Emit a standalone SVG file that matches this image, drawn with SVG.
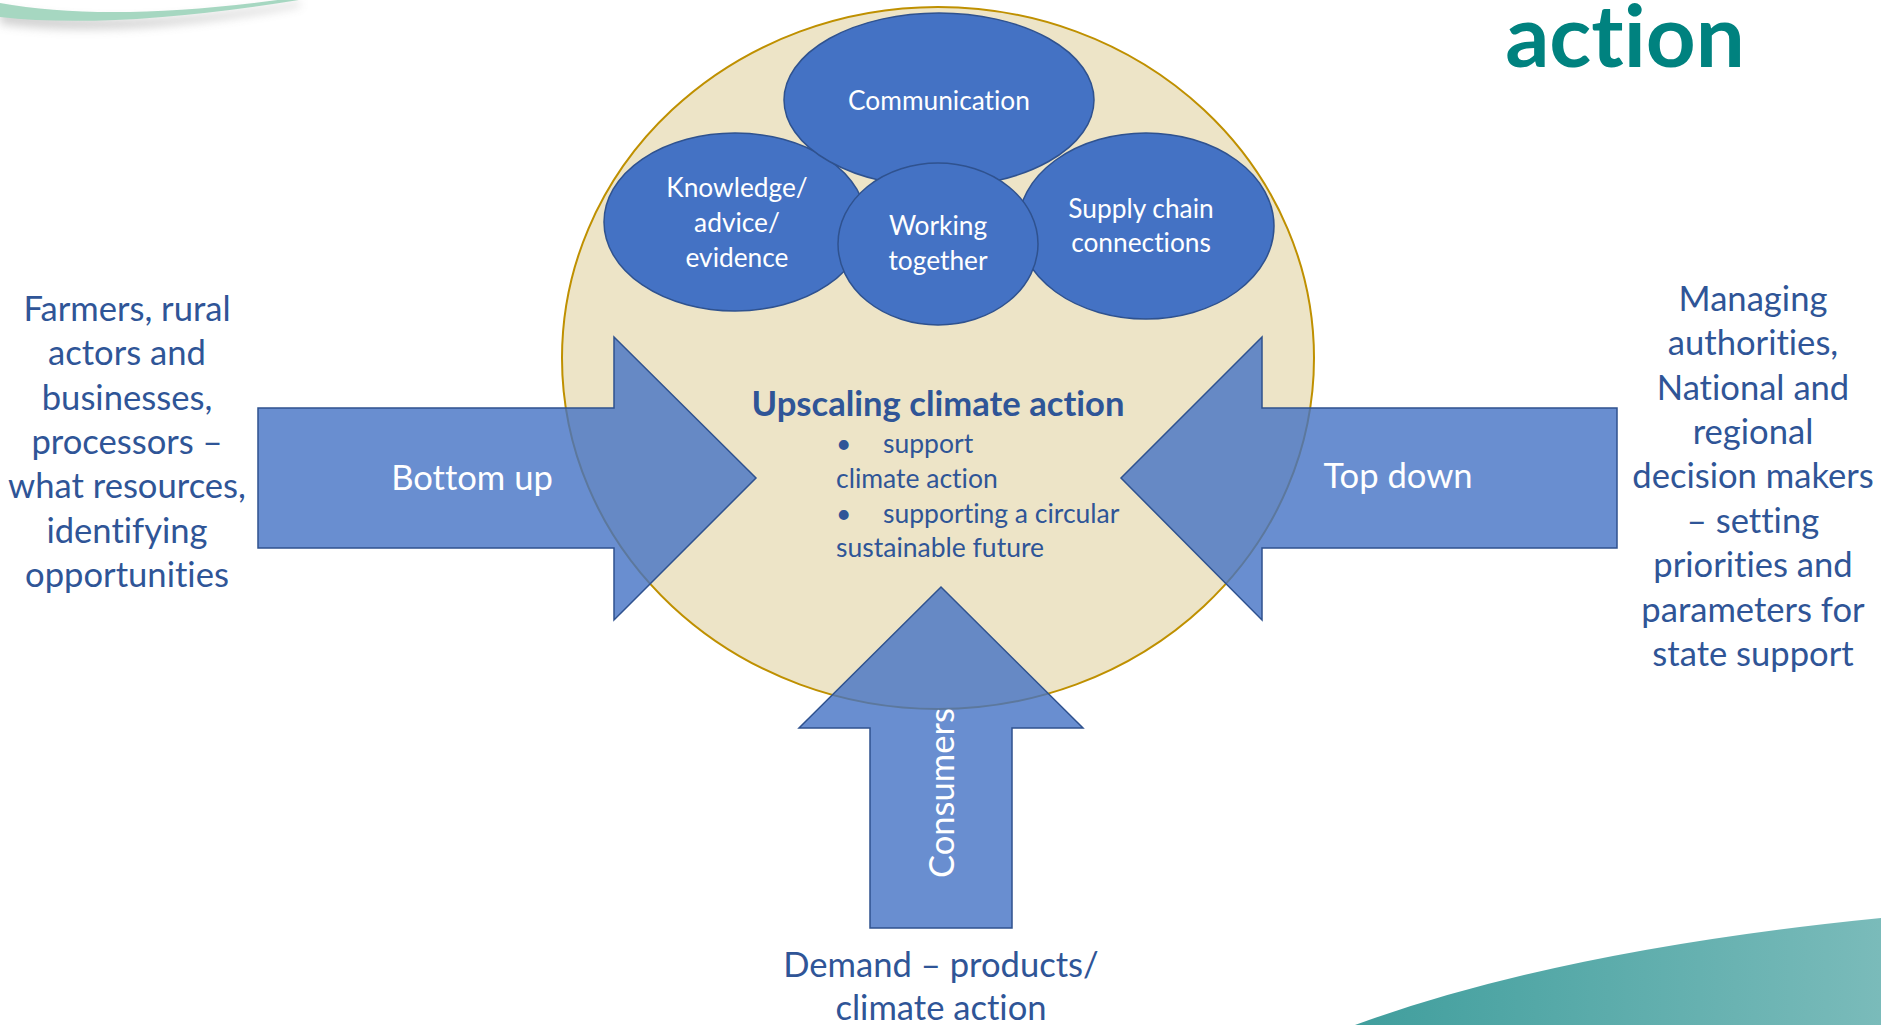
<svg xmlns="http://www.w3.org/2000/svg" width="1881" height="1025" viewBox="0 0 1881 1025">
<style>
text{font-variant-ligatures:none;font-feature-settings:"liga" 0,"clig" 0}
.side{font-family:Lato,"Open Sans","Liberation Sans",sans-serif;font-size:34.6px;fill:#2F5597;text-anchor:middle}
.ell{fill:#4472C4;stroke:#2F528F;stroke-width:1.5}
.elt{font-family:Lato,"Open Sans","Liberation Sans",sans-serif;font-size:26.3px;fill:#FFFFFF;text-anchor:middle}
.arrow{fill:#4472C4;fill-opacity:0.8;stroke:#2F528F;stroke-width:1.5}
.arl{font-family:Lato,"Open Sans","Liberation Sans",sans-serif;font-size:34.6px;fill:#FFFFFF;text-anchor:middle}
.bul{font-family:Lato,"Open Sans","Liberation Sans",sans-serif;font-size:26.5px;fill:#2F5597}
</style>
<defs>
<linearGradient id="teal" x1="0" y1="0" x2="1" y2="0">
<stop offset="0" stop-color="#409E9D"/>
<stop offset="1" stop-color="#7ABBBA"/>
</linearGradient>
<filter id="blur" x="-20%" y="-50%" width="140%" height="300%">
<feGaussianBlur stdDeviation="5"/>
</filter>
</defs>
<rect width="1881" height="1025" fill="#FFFFFF"/>
<g id="decor-top-left">
<path d="M0,9 Q120,32 300,2 L300,6 Q120,40 0,24 Z" fill="#9A9A9A" opacity="0.45" filter="url(#blur)"/>
<path d="M0,3 Q110,23 285,-1 L305,-1 Q115,30 0,17 Z" fill="#A6D7C1"/>
</g>
<g id="decor-bottom-right">
<path d="M1355,1025 Q1560,950 1881,918 L1881,1025 Z" fill="url(#teal)"/>
</g>
<text id="title" x="1625" y="67" font-family="Lato,'Open Sans','Liberation Sans',sans-serif" font-weight="bold" font-size="87" fill="#00827F" text-anchor="middle">action</text>
<g id="circle-upscaling">
<ellipse cx="938" cy="358" rx="376" ry="351" fill="#EDE4C7" stroke="#BF9000" stroke-width="2"/>
</g>
<g id="node-knowledge">
<ellipse class="ell" cx="735" cy="222" rx="131" ry="89"/>
<text class="elt" x="737" y="197">Knowledge/</text>
<text class="elt" x="737" y="232">advice/</text>
<text class="elt" x="737" y="267">evidence</text>
</g>
<g id="node-supply">
<ellipse class="ell" cx="1146" cy="226" rx="128" ry="93"/>
<text class="elt" x="1141" y="218">Supply chain</text>
<text class="elt" x="1141" y="252">connections</text>
</g>
<g id="node-communication">
<ellipse class="ell" cx="939" cy="100" rx="155" ry="87"/>
<text class="elt" x="939" y="110">Communication</text>
</g>
<g id="node-working">
<ellipse class="ell" cx="938" cy="244" rx="100" ry="81"/>
<text class="elt" x="938" y="235">Working</text>
<text class="elt" x="938" y="270">together</text>
</g>
<g id="connectors">
<path id="arrow-bottom-up" class="arrow" d="M258,408 L614,408 L614,337 L756,478 L614,620 L614,548 L258,548 Z"/>
<path id="arrow-top-down" class="arrow" d="M1617,408 L1262,408 L1262,337 L1121,478 L1262,620 L1262,548 L1617,548 Z"/>
<path id="arrow-consumers" class="arrow" d="M870,928 L870,728 L799,728 L941,587 L1083,728 L1012,728 L1012,928 Z"/>
</g>
<text class="arl" x="472" y="490">Bottom up</text>
<text class="arl" x="1398" y="488">Top down</text>
<text class="arl" transform="translate(954,793) rotate(-90)" x="0" y="0">Consumers</text>
<g id="center-text">
<text x="938" y="416" font-family="Lato,'Open Sans','Liberation Sans',sans-serif" font-weight="bold" font-size="34.6" fill="#2F5597" text-anchor="middle">Upscaling climate action</text>
<text class="bul" x="836" y="453">•</text>
<text class="bul" x="883" y="453">support</text>
<text class="bul" x="836" y="488">climate action</text>
<text class="bul" x="836" y="523">•</text>
<text class="bul" x="883" y="523">supporting a circular</text>
<text class="bul" x="836" y="557">sustainable future</text>
</g>
<g id="label-left">
<text class="side" x="127" y="321">Farmers, rural</text>
<text class="side" x="127" y="365">actors and</text>
<text class="side" x="127" y="410">businesses,</text>
<text class="side" x="127" y="454">processors –</text>
<text class="side" x="127" y="498">what resources,</text>
<text class="side" x="127" y="543">identifying</text>
<text class="side" x="127" y="587">opportunities</text>
</g>
<g id="label-right">
<text class="side" x="1753" y="311">Managing</text>
<text class="side" x="1753" y="355">authorities,</text>
<text class="side" x="1753" y="400">National and</text>
<text class="side" x="1753" y="444">regional</text>
<text class="side" x="1753" y="488">decision makers</text>
<text class="side" x="1753" y="533">– setting</text>
<text class="side" x="1753" y="577">priorities and</text>
<text class="side" x="1753" y="622">parameters for</text>
<text class="side" x="1753" y="666">state support</text>
</g>
<g id="label-bottom">
<text class="side" x="941" y="977">Demand – products/</text>
<text class="side" x="941" y="1020">climate action</text>
</g>
</svg>
